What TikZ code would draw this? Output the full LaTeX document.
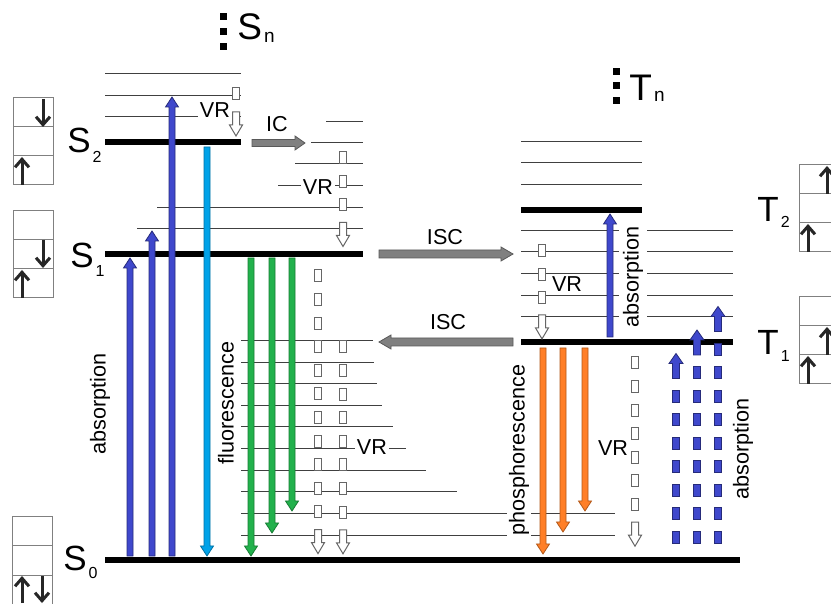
\documentclass[tikz,border=0pt]{standalone}
\usepackage{fontspec}
\setmainfont{Liberation Sans}
\usetikzlibrary{arrows.meta,calc}

\definecolor{absblue}{HTML}{3F48CC}
\definecolor{flucyan}{HTML}{00A2E8}
\definecolor{flugreen}{HTML}{22B14C}
\definecolor{phosorange}{HTML}{FF7F27}
\definecolor{iscgray}{HTML}{808080}

\tikzset{
  arrshaft/.store in=\arrshaft, arrhead/.store in=\arrhead, arrtip/.store in=\arrtip,
  arrshaft=1.5pt, arrhead=3.25pt, arrtip=5pt,
}

% block arrow from #2 to #3
\newcommand{\blockarrow}[3][]{%
  \begin{scope}[#1]
    \coordinate (ah) at ($(#3)!\arrtip!(#2)$);
    \filldraw ($(#2)!\arrshaft!90:(#3)$) -- ($(ah)!\arrshaft!90:(#3)$)
      -- ($(ah)!\arrhead!90:(#3)$) -- (#3)
      -- ($(ah)!\arrhead!-90:(#3)$) -- ($(ah)!\arrshaft!-90:(#3)$)
      -- ($(#2)!\arrshaft!-90:(#3)$) -- cycle;
  \end{scope}}

% vibrational relaxation: x, first box top, boxes, period
\newcommand{\vrdown}[4]{%
  \foreach \k in {1,...,#3}
    \draw[vrbox] ({#1-3.5},{#2+(\k-1)*#4}) rectangle ++(7,12);
  \pgfmathsetmacro\vrtop{#2+#3*#4}
  \pgfmathsetmacro\vrend{#2+#3*#4+24}
  \blockarrow[vrarrow]{#1,\vrtop}{#1,\vrend}}

% dashed absorption: x, bottom, boxes, period
\newcommand{\absup}[4]{%
  \foreach \k in {1,...,#3}
    \draw[absbox] ({#1-3.5},{#2-(\k-1)*#4}) rectangle ++(7,-12);
  \pgfmathsetmacro\abbot{#2-#3*#4}
  \pgfmathsetmacro\abtip{#2-#3*#4-25}
  \blockarrow[colarr, fill=absblue, draw=absblue!60!black, arrshaft=1.75pt, arrhead=3.5pt]{#1,\abbot}{#1,\abtip}}

% spin box with three cells
\newcommand{\spinbox}[2]{%
  \draw[spinbox] (#1,#2) rectangle ++(40,87);
  \draw[spinbox] (#1,{#2+29}) -- ++(40,0) (#1,{#2+58}) -- ++(40,0);}

\newcommand{\lvlname}[4][8]{#2\kern1pt\raisebox{-#4}{\fontsize{#1}{#1}\selectfont #3}}

\begin{document}
\begin{tikzpicture}[x=0.5pt, y=-0.5pt,
  vib/.style={black!75, line width=0.5pt},
  lvl/.style={line width=3pt},
  spinbox/.style={draw=black!50, line width=0.5pt},
  spin/.style={line width=1.5pt, black!85, -{Straight Barb[length=4pt,width=7pt]}},
  lbl/.style={font=\fontsize{10.8}{12}\selectfont, inner sep=1pt},
  vrlbl/.style={lbl, fill=white},
  big/.style={font=\fontsize{17.5}{20}\selectfont, anchor=base west, inner sep=0pt},
  colarr/.style={line width=0.4pt},
  iscarr/.style={fill=iscgray, draw=black!65, line width=0.4pt, arrshaft=2pt, arrhead=3.5pt, arrtip=6pt},
  vrbox/.style={fill=white, draw=black!60, line width=0.5pt},
  vrarrow/.style={fill=white, draw=black!60, line width=0.5pt, arrshaft=1.75pt, arrhead=3.25pt, arrtip=5.5pt},
  absbox/.style={fill=absblue, draw=absblue!60!black, line width=0.4pt},
]
\clip (0,0) rectangle (831,604);
\fill[white] (0,0) rectangle (831,604);

% singlet levels
\foreach \y in {74,96,117} \draw[vib] (105,\y) -- (241,\y);
\draw[lvl] (105,142) -- (241,142);
\foreach \x/\y in {326/122,311/143,295/164,278/186,157/208,137/229} \draw[vib] (\x,\y) -- (363,\y);
\draw[lvl] (105,254) -- (363,254);
\foreach \y/\e in {341/373,363/374,384/377,406/382,427/393,449/406,471/426,492/457,514/615,536/615}
  \draw[vib] (241,\y) -- (\e,\y);
\draw[lvl] (105,560) -- (740,560);

% triplet levels
\foreach \y in {142,163,185} \draw[vib] (521,\y) -- (642,\y);
\draw[lvl] (521,210) -- (642,210);
\foreach \y in {231,252,274,296,317} \draw[vib] (521,\y) -- (733,\y);
\draw[lvl] (521,342) -- (733,342);

% level names
\foreach \y in {13,28,43} \fill (220,\y) rectangle ++(7,7);
\foreach \y in {68,82,97} \fill (613,\y) rectangle ++(7,7);
\node[big, font=\fontsize{18.5}{20}\selectfont] (Sn) at (237,40) {\lvlname[9.5]{S}{n}{1.5pt}};
\node[big, font=\fontsize{18.5}{20}\selectfont] (Tn) at (629,101) {\lvlname[9.5]{T}{n}{0.5pt}};
\node[big] (S2) at (67,153) {\lvlname{S}{2}{5pt}};
\node[big] (S1) at (70,268) {\lvlname{S}{1}{4.5pt}};
\node[big] (S0) at (63,570) {\lvlname{S}{0}{4pt}};
\node[big] (T2) at (757,222) {\lvlname{T}{2}{3pt}};
\node[big] (T1) at (757,355) {\lvlname{T}{1}{3.5pt}};

% spin boxes
\spinbox{13}{98}
\spinbox{13}{211}
\spinbox{12}{517}
\spinbox{799}{165}
\spinbox{799}{297}
\draw[spin] (43,99) -- (43,127);
\draw[spin] (22,185) -- (22,157);
\draw[spin] (43,240) -- (43,268);
\draw[spin] (22,298) -- (22,270);
\draw[spin] (22,603) -- (22,576);
\draw[spin] (42,576) -- (42,603);
\draw[spin] (827,194) -- (827,166);
\draw[spin] (808,252) -- (808,224);
\draw[spin] (827,355) -- (827,327);
\draw[spin] (808,384) -- (808,356);

% labels
\node[lbl, rotate=90] (absS) at (100,404) {absorption};
\node[lbl, rotate=90] (fluo) at (226,403) {fluorescence};
\node[lbl, rotate=90, fill=white] (phos) at (519,450) {phosphorescence};
\node[lbl, rotate=90, fill=white, inner sep=2pt] (absT) at (633,277) {absorption};
\node[lbl, rotate=90] (absTT) at (743,449) {absorption};
\node[vrlbl] (vr1) at (215,110) {VR};
\node[vrlbl] (vr2) at (318,187) {VR};
\node[vrlbl] (vr3) at (372,447) {VR};
\node[vrlbl] (vr4) at (567,284) {VR};
\node[vrlbl] (vr5) at (613,448) {VR};
\node[lbl] (ic) at (277,124) {IC};
\node[lbl] (isc1) at (445,237) {ISC};
\node[lbl] (isc2) at (448,322) {ISC};

% vibrational relaxation
\vrdown{236}{88}{1}{24}
\vrdown{343}{152}{3}{23.5}
\vrdown{318}{270}{11}{23.6}
\vrdown{343}{341}{8}{23.6}
\vrdown{542}{245}{3}{23.3}
\vrdown{635}{357}{7}{23.6}

% IC and ISC
\blockarrow[iscarr, arrshaft=1.75pt, arrtip=5pt]{252,143}{305,143}
\blockarrow[iscarr]{379,254}{513,254}
\blockarrow[iscarr]{513,342}{379,342}

% absorption
\blockarrow[colarr, fill=absblue, draw=absblue!60!black]{130,556}{130,258}
\blockarrow[colarr, fill=absblue, draw=absblue!60!black]{152,556}{152,231}
\blockarrow[colarr, fill=absblue, draw=absblue!60!black]{172,556}{172,97}
\blockarrow[colarr, fill=absblue, draw=absblue!60!black]{610,337}{610,214}
\absup{676}{543}{7}{23.5}
\absup{697}{543}{8}{23.5}
\absup{718}{543}{9}{23.5}

% fluorescence
\blockarrow[colarr, fill=flucyan, draw=flucyan!70!black]{207,147}{207,556}
\blockarrow[colarr, fill=flugreen, draw=flugreen!70!black]{251,258}{251,556}
\blockarrow[colarr, fill=flugreen, draw=flugreen!70!black]{272,258}{272,533}
\blockarrow[colarr, fill=flugreen, draw=flugreen!70!black]{292,258}{292,511}

% phosphorescence
\blockarrow[colarr, fill=phosorange, draw=phosorange!70!black]{543,348}{543,554}
\blockarrow[colarr, fill=phosorange, draw=phosorange!70!black]{563,348}{563,532}
\blockarrow[colarr, fill=phosorange, draw=phosorange!70!black]{585,348}{585,511}
\end{tikzpicture}
\end{document}
